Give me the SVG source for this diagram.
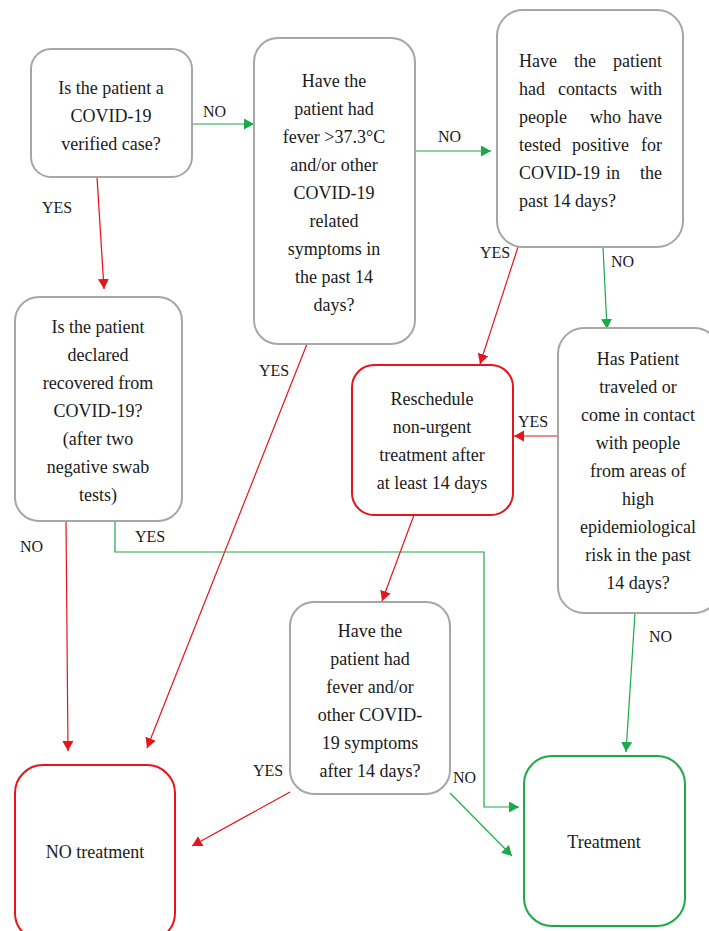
<svg xmlns="http://www.w3.org/2000/svg" width="709" height="931" viewBox="0 0 709 931">
<style>
.box{fill:#fff;stroke:#a6a6a6;stroke-width:2}
.rbox{fill:#fff;stroke:#e8141c;stroke-width:2}
.gbox{fill:#fff;stroke:#1aaa4a;stroke-width:2}
text{fill:#1a1a1a}
.t{font-size:18px;text-anchor:middle}
.j{font-size:18px}
.lb{font-size:16px}
.r{fill:none;stroke:#e8141c;stroke-width:1.2}
.g{fill:none;stroke:#1aaa4a;stroke-width:1.2}
</style>
<defs>
<marker id="ar" markerUnits="userSpaceOnUse" markerWidth="12" markerHeight="12" refX="10" refY="5.5" orient="auto"><path d="M0,0 L10,5.5 L0,11 Z" fill="#e8141c"/></marker>
<marker id="ag" markerUnits="userSpaceOnUse" markerWidth="12" markerHeight="12" refX="10" refY="5.5" orient="auto"><path d="M0,0 L10,5.5 L0,11 Z" fill="#1aaa4a"/></marker>
</defs>
<rect width="709" height="931" fill="#fff"/>
<g font-family="'Liberation Serif', 'DejaVu Serif', serif">
<g id="connectors">
<line class="g" x1="192" y1="124" x2="254" y2="124" marker-end="url(#ag)"/>
<line class="g" x1="415" y1="151" x2="491" y2="151" marker-end="url(#ag)"/>
<line class="r" x1="97" y1="177" x2="104" y2="289" marker-end="url(#ar)"/>
<line class="r" x1="518" y1="247" x2="480" y2="364" marker-end="url(#ar)"/>
<line class="g" x1="603" y1="247" x2="607" y2="329" marker-end="url(#ag)"/>
<line class="r" x1="558" y1="436" x2="514" y2="436" marker-end="url(#ar)"/>
<line class="r" x1="307" y1="344" x2="147" y2="748" marker-end="url(#ar)"/>
<line class="r" x1="66" y1="521" x2="68" y2="751" marker-end="url(#ar)"/>
<polyline class="g" points="115,521 115,552 484,552 484,807 519,807" marker-end="url(#ag)"/>
<line class="r" x1="414" y1="515" x2="382" y2="601" marker-end="url(#ar)"/>
<line class="r" x1="290" y1="792" x2="192" y2="846" marker-end="url(#ar)"/>
<line class="g" x1="450" y1="793" x2="512" y2="856" marker-end="url(#ag)"/>
<line class="g" x1="635" y1="613" x2="626" y2="752" marker-end="url(#ag)"/>
<text class="lb" x="203" y="117">NO</text>
<text class="lb" x="438" y="142">NO</text>
<text class="lb" x="42" y="213">YES</text>
<text class="lb" x="480" y="258">YES</text>
<text class="lb" x="611" y="267">NO</text>
<text class="lb" x="518" y="427">YES</text>
<text class="lb" x="259" y="376">YES</text>
<text class="lb" x="20" y="552">NO</text>
<text class="lb" x="135" y="542">YES</text>
<text class="lb" x="253" y="776">YES</text>
<text class="lb" x="453" y="783">NO</text>
<text class="lb" x="649" y="642">NO</text>
</g>

<g id="n1">
<rect class="box" x="31" y="49" width="161" height="128" rx="20"/>
<text class="t" x="111" y="94">Is the patient a</text>
<text class="t" x="111" y="122">COVID-19</text>
<text class="t" x="111" y="150">verified case?</text>
</g>

<g id="n2">
<rect class="box" x="254" y="38" width="161" height="306" rx="24"/>
<text class="t" x="334" y="87">Have the</text>
<text class="t" x="334" y="115">patient had</text>
<text class="t" x="334" y="143">fever &gt;37.3°C</text>
<text class="t" x="334" y="171">and/or other</text>
<text class="t" x="334" y="199">COVID-19</text>
<text class="t" x="334" y="227">related</text>
<text class="t" x="334" y="255">symptoms in</text>
<text class="t" x="334" y="283">the past 14</text>
<text class="t" x="334" y="311">days?</text>
</g>

<g id="n3">
<rect class="box" x="497" y="10" width="186" height="237" rx="26"/>
<text class="j" x="519" y="67">Have</text><text class="j" x="574" y="67">the</text><text class="j" x="662" y="67" text-anchor="end">patient</text>
<text class="j" x="519" y="95">had</text><text class="j" x="558" y="95">contacts</text><text class="j" x="662" y="95" text-anchor="end">with</text>
<text class="j" x="519" y="123">people</text><text class="j" x="590" y="123">who</text><text class="j" x="662" y="123" text-anchor="end">have</text>
<text class="j" x="519" y="151">tested</text><text class="j" x="572" y="151">positive</text><text class="j" x="662" y="151" text-anchor="end">for</text>
<text class="j" x="519" y="179">COVID-19</text><text class="j" x="606" y="179">in</text><text class="j" x="662" y="179" text-anchor="end">the</text>
<text class="j" x="519" y="207">past 14 days?</text>
</g>

<g id="n4">
<rect class="box" x="15" y="297" width="167" height="224" rx="24"/>
<text class="t" x="98" y="333">Is the patient</text>
<text class="t" x="98" y="361">declared</text>
<text class="t" x="98" y="389">recovered from</text>
<text class="t" x="98" y="417">COVID-19?</text>
<text class="t" x="98" y="445">(after two</text>
<text class="t" x="98" y="473">negative swab</text>
<text class="t" x="98" y="501">tests)</text>
</g>

<g id="n5">
<rect class="rbox" x="352" y="365" width="161" height="150" rx="22"/>
<text class="t" x="432" y="405">Reschedule</text>
<text class="t" x="432" y="433">non-urgent</text>
<text class="t" x="432" y="461">treatment after</text>
<text class="t" x="432" y="489">at least 14 days</text>
</g>

<g id="n6">
<rect class="box" x="558" y="328" width="162" height="285" rx="26"/>
<text class="t" x="638" y="365">Has Patient</text>
<text class="t" x="638" y="393">traveled or</text>
<text class="t" x="638" y="421">come in contact</text>
<text class="t" x="638" y="449">with people</text>
<text class="t" x="638" y="477">from areas of</text>
<text class="t" x="638" y="505">high</text>
<text class="t" x="638" y="533">epidemiological</text>
<text class="t" x="638" y="561">risk in the past</text>
<text class="t" x="638" y="589">14 days?</text>
</g>

<g id="n7">
<rect class="box" x="290" y="602" width="160" height="192" rx="24"/>
<text class="t" x="370" y="637">Have the</text>
<text class="t" x="370" y="665">patient had</text>
<text class="t" x="370" y="693">fever and/or</text>
<text class="t" x="370" y="721">other COVID-</text>
<text class="t" x="370" y="749">19 symptoms</text>
<text class="t" x="370" y="777">after 14 days?</text>
</g>

<g id="n8">
<rect class="rbox" x="15" y="765" width="160" height="176" rx="28"/>
<text class="t" x="95" y="858">NO treatment</text>
</g>

<g id="n9">
<rect class="gbox" x="524" y="756" width="161" height="170" rx="28"/>
<text class="t" x="604" y="848">Treatment</text>
</g>
</g>
</svg>
